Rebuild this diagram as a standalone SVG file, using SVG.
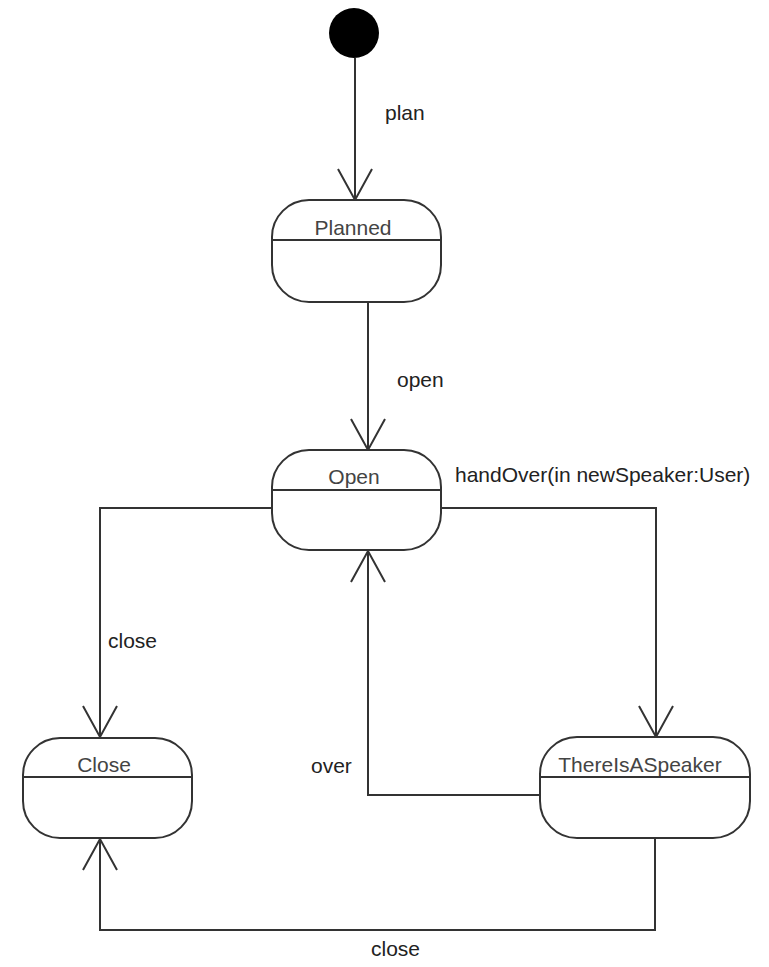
<svg xmlns="http://www.w3.org/2000/svg" width="769" height="967" viewBox="0 0 769 967">
  <style>
    .state { fill: #ffffff; stroke: #333333; stroke-width: 2; }
    .div { stroke: #333333; stroke-width: 2; }
    .name { font-family: "Liberation Sans", Arial, sans-serif; font-size: 21px; fill: #444444; text-anchor: middle; }
    .edge { fill: none; stroke: #333333; stroke-width: 2; marker-end: url(#open-arrow); }
    .label { font-family: "Liberation Sans", Arial, sans-serif; font-size: 21px; fill: #222222; }
  </style>
  <defs>
    <marker id="open-arrow" markerUnits="userSpaceOnUse" markerWidth="40" markerHeight="40" refX="0" refY="0" orient="auto" overflow="visible">
      <path d="M -31 -17 L 0 0 L -31 17" fill="none" stroke="#333333" stroke-width="2"/>
    </marker>
  </defs>
  <rect width="769" height="967" fill="#ffffff"/>

  <g id="connectors">
    <path class="edge" d="M 355 58 L 355 200"/>
    <path class="edge" d="M 368 302 L 368 450"/>
    <path class="edge" d="M 272 508 L 100 508 L 100 737"/>
    <path class="edge" d="M 441 508 L 656 508 L 656 737"/>
    <path class="edge" d="M 540 795 L 368 795 L 368 551"/>
    <path class="edge" d="M 655 838 L 655 930 L 100 930 L 100 839"/>
    <text class="label" x="385" y="120">plan</text>
    <text class="label" x="397" y="387">open</text>
    <text class="label" x="455" y="482">handOver(in newSpeaker:User)</text>
    <text class="label" x="108" y="648">close</text>
    <text class="label" x="311" y="773">over</text>
    <text class="label" x="371" y="956">close</text>
  </g>

  <g id="initial">
    <circle cx="354" cy="33" r="25" fill="#000000"/>
  </g>

  <g id="planned">
    <rect class="state" x="272" y="200" width="169" height="102" rx="37" ry="37"/>
    <line class="div" x1="272" y1="240" x2="441" y2="240"/>
    <text class="name" x="353" y="235">Planned</text>
  </g>

  <g id="open">
    <rect class="state" x="272" y="450" width="169" height="100" rx="37" ry="37"/>
    <line class="div" x1="272" y1="490" x2="441" y2="490"/>
    <text class="name" x="354" y="484">Open</text>
  </g>

  <g id="close">
    <rect class="state" x="23" y="738" width="169" height="100" rx="37" ry="37"/>
    <line class="div" x1="23" y1="777" x2="192" y2="777"/>
    <text class="name" x="104" y="772">Close</text>
  </g>

  <g id="there-is-a-speaker">
    <rect class="state" x="540" y="737" width="210" height="101" rx="37" ry="37"/>
    <line class="div" x1="540" y1="777" x2="750" y2="777"/>
    <text class="name" x="640" y="772">ThereIsASpeaker</text>
  </g>
</svg>
